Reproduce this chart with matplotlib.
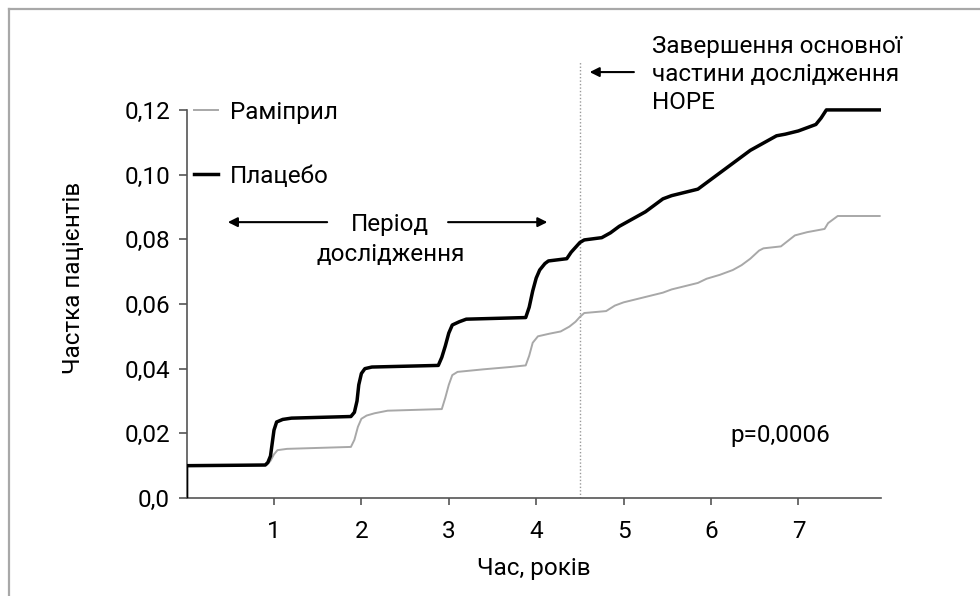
import matplotlib
matplotlib.use("Agg")
import matplotlib.pyplot as plt
from matplotlib.lines import Line2D

plt.rcParams['font.family'] = ['Roboto', 'DejaVu Sans']

# cumulative proportion of patients (years, value)
placebo_t = [0.0, 0.0, 0.90, 0.93, 0.96, 0.98, 1.00, 1.03, 1.10, 1.20, 1.88, 1.92, 1.95, 1.97,
             2.00, 2.04, 2.12, 2.88, 2.92, 2.96, 3.00, 3.04, 3.12, 3.20, 3.88, 3.92, 3.96,
             4.00, 4.04, 4.10, 4.14, 4.35, 4.40, 4.45, 4.50, 4.55, 4.75, 4.85, 4.95, 5.05,
             5.15, 5.25, 5.35, 5.45, 5.55, 5.70, 5.85, 5.95, 6.05, 6.15, 6.25, 6.35, 6.45,
             6.55, 6.65, 6.75, 6.85, 7.00, 7.10, 7.20, 7.26, 7.32, 7.93]
placebo_v = [0.0, 0.0100, 0.0102, 0.0110, 0.0130, 0.0170, 0.0210, 0.0235, 0.0243, 0.0247, 0.0252,
             0.0265, 0.0300, 0.0350, 0.0385, 0.0400, 0.0405, 0.0410, 0.0435, 0.0470, 0.0510,
             0.0535, 0.0545, 0.0553, 0.0558, 0.0590, 0.0640, 0.0680, 0.0705, 0.0725, 0.0733,
             0.0740, 0.0760, 0.0775, 0.0790, 0.0798, 0.0805, 0.0820, 0.0840, 0.0855, 0.0870,
             0.0885, 0.0905, 0.0925, 0.0935, 0.0945, 0.0955, 0.0975, 0.0995, 0.1015, 0.1035,
             0.1055, 0.1075, 0.1090, 0.1105, 0.1120, 0.1125, 0.1135, 0.1145, 0.1155, 0.1175,
             0.1200, 0.1200]

ramipril_t = [0.0, 0.92, 0.96, 1.00, 1.04, 1.15, 1.88, 1.92, 1.96, 2.00, 2.06, 2.15, 2.30,
              2.92, 2.96, 3.00, 3.04, 3.10, 3.40, 3.70, 3.88, 3.92, 3.96, 4.02, 4.15, 4.28,
              4.38, 4.45, 4.50, 4.55, 4.80, 4.90, 5.00, 5.15, 5.30, 5.45, 5.55, 5.70, 5.85,
              5.95, 6.10, 6.25, 6.35, 6.45, 6.55, 6.60, 6.80, 6.88, 6.96, 7.10, 7.30, 7.34,
              7.45, 7.93]
ramipril_v = [0.0100, 0.0103, 0.0115, 0.0135, 0.0148, 0.0152, 0.0158, 0.0180, 0.0220, 0.0245,
              0.0255, 0.0262, 0.0270, 0.0275, 0.0310, 0.0350, 0.0380, 0.0390, 0.0398, 0.0405,
              0.0410, 0.0440, 0.0480, 0.0500, 0.0508, 0.0515, 0.0530, 0.0545, 0.0560, 0.0572,
              0.0578, 0.0595, 0.0605, 0.0615, 0.0625, 0.0635, 0.0645, 0.0655, 0.0665, 0.0678,
              0.0690, 0.0705, 0.0720, 0.0740, 0.0765, 0.0772, 0.0778, 0.0795, 0.0812, 0.0822,
              0.0832, 0.0850, 0.0872, 0.0872]

y_ticks = [0.0, 0.02, 0.04, 0.06, 0.08, 0.10, 0.12]
y_tick_labels = ["0,0", "0,02", "0,04", "0,06", "0,08", "0,10", "0,12"]
x_ticks = [1, 2, 3, 4, 5, 6, 7]
hope_end = 4.5

fs = 17.5
fig = plt.figure(figsize=(9.8, 5.96), dpi=100)
ax = fig.add_axes([0.1904, 0.1644, 0.709, 0.738])

# grey frame around the picture
fig.add_artist(Line2D([0.009, 1.0], [0.985, 0.985], color="#a8a8a8", lw=1.6))
fig.add_artist(Line2D([0.009, 0.009], [0.0, 0.985], color="#a8a8a8", lw=1.6))

ax.plot(ramipril_t, ramipril_v, color="#a8a8a8", lw=1.4, label="Раміприл", zorder=3)
ax.plot(placebo_t, placebo_v, color="black", lw=2.5, label="Плацебо", zorder=4,
        solid_joinstyle="round")

ax.axvline(hope_end, ymin=0, ymax=0.1348 / 0.136, color="#999999", lw=1.0,
           linestyle=(0, (1, 1.5)), zorder=2)

ax.set_xlim(0, 7.95)
ax.set_ylim(0, 0.136)
ax.set_yticks(y_ticks)
ax.set_yticklabels(y_tick_labels)
ax.set_xticks(x_ticks)
ax.tick_params(axis="y", direction="out", length=6, width=1.2, pad=6,
               labelsize=fs, color="#555555")
ax.tick_params(axis="x", direction="out", length=5, width=1.2, pad=11,
               labelsize=fs, color="#555555")
for s in ["top", "right"]:
    ax.spines[s].set_visible(False)
ax.spines["left"].set_bounds(0, 0.12)
ax.spines["left"].set_color("#555555")
ax.spines["bottom"].set_color("#555555")
ax.spines["left"].set_linewidth(1.2)
ax.spines["bottom"].set_linewidth(1.2)

ax.set_xlabel("Час, років", fontsize=fs, labelpad=10)
ax.set_ylabel("Частка пацієнтів", fontsize=fs, labelpad=28)

leg = ax.legend(loc="upper left", bbox_to_anchor=(0.0, 0.92), frameon=False,
                fontsize=fs, handlelength=1.0, handletextpad=0.5, labelspacing=1.7,
                borderaxespad=0.0, borderpad=0.3)

# study period arrows
ax.annotate("", xy=(0.44, 0.0853), xytext=(1.64, 0.0853),
            arrowprops=dict(arrowstyle="-|>", color="black", lw=1.5, mutation_scale=14))
ax.annotate("", xy=(4.16, 0.0853), xytext=(2.96, 0.0853),
            arrowprops=dict(arrowstyle="-|>", color="black", lw=1.5, mutation_scale=14))
ax.text(2.33, 0.0800, "Період\nдослідження", ha="center", va="center", fontsize=fs,
        linespacing=1.4)

# end of main HOPE study
ax.annotate("", xy=(4.58, 0.1317), xytext=(5.15, 0.1317),
            arrowprops=dict(arrowstyle="-|>", color="black", lw=1.5, mutation_scale=14),
            annotation_clip=False)
ax.text(5.33, 0.1310, "Завершення основної\nчастини дослідження\nHOPE", ha="left",
        va="center", fontsize=fs, linespacing=1.28, clip_on=False)

ax.text(6.79, 0.0192, "p=0,0006", ha="center", va="center", fontsize=fs)

fig.savefig("out.png", dpi=100)
